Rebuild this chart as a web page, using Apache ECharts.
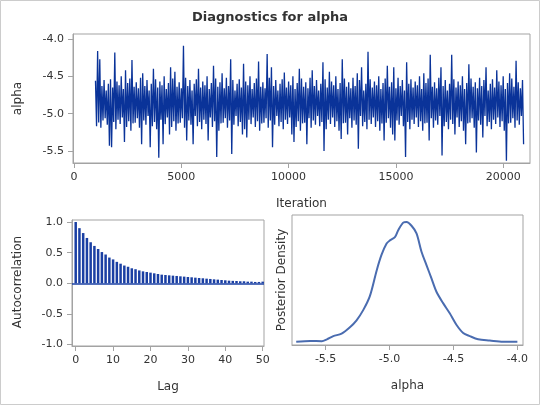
<!DOCTYPE html>
<html>

<head>
    <meta charset="utf-8">
    <title>Diagnostics for alpha</title>
    <script src="https://cdn.jsdelivr.net/npm/echarts@6/dist/echarts.min.js"></script>
    <style>
        body { margin: 0; background: #fff; }
    </style>
</head>

<body>
    <div id="main" style="width: 540px;height:405px;"></div>
    <script type="text/javascript">
    // trace: one value every 50 iterations (1001 .. 20951)
    var traceStart = 1001;
    var traceStep = 50;
    var traceValues = [
        -4.56, -5.17, -4.16, -5.12, -4.27, -5.19, -4.63, -5.09, -4.55, -5.06,
        -4.69, -5.15, -4.60, -5.43, -4.54, -5.45, -4.65, -5.11, -4.18, -5.21,
        -4.57, -5.08, -4.62, -5.14, -4.50, -5.05, -4.67, -5.38, -4.42, -5.18,
        -4.59, -5.10, -4.53, -5.23, -4.28, -5.13, -4.64, -5.12, -4.58, -5.06,
        -4.66, -5.19, -4.52, -5.41, -4.46, -5.09, -4.63, -5.15, -4.55, -5.03,
        -4.69, -5.45, -4.60, -5.17, -4.40, -5.11, -4.54, -5.21, -4.65, -5.59,
        -4.57, -5.08, -4.62, -5.41, -4.50, -5.14, -4.67, -5.05, -4.59, -5.28,
        -4.38, -5.18, -4.53, -5.10, -4.44, -5.23, -4.64, -5.13, -4.58, -5.12,
        -4.66, -5.06, -4.09, -5.19, -4.52, -5.36, -4.63, -5.09, -4.55, -5.15,
        -4.69, -5.41, -4.60, -5.03, -4.54, -5.17, -4.40, -5.11, -4.65, -5.21,
        -4.57, -5.08, -4.62, -5.14, -4.50, -5.36, -4.67, -5.05, -4.59, -5.18,
        -4.36, -5.10, -4.53, -5.58, -4.64, -5.23, -4.58, -5.13, -4.46, -5.12,
        -4.66, -5.06, -4.52, -5.19, -4.63, -5.09, -4.27, -5.54, -4.55, -5.15,
        -4.69, -5.03, -4.60, -5.17, -4.54, -5.11, -4.65, -5.28, -4.33, -5.21,
        -4.57, -5.32, -4.62, -5.08, -4.50, -5.14, -4.67, -5.05, -4.59, -5.18,
        -4.53, -5.10, -4.30, -5.23, -4.64, -5.13, -4.58, -5.12, -4.66, -5.06,
        -4.20, -5.19, -4.52, -5.09, -4.38, -5.45, -4.63, -5.15, -4.55, -5.03,
        -4.69, -5.17, -4.60, -5.11, -4.54, -5.21, -4.45, -5.08, -4.65, -5.14,
        -4.57, -5.05, -4.62, -5.28, -4.50, -5.38, -4.67, -5.18, -4.59, -5.10,
        -4.40, -5.23, -4.53, -5.13, -4.64, -5.12, -4.58, -5.41, -4.66, -5.06,
        -4.52, -5.19, -4.42, -5.09, -4.63, -5.15, -4.55, -5.03, -4.69, -5.17,
        -4.60, -5.11, -4.31, -5.50, -4.54, -5.21, -4.65, -5.08, -4.44, -5.14,
        -4.57, -5.05, -4.62, -5.18, -4.50, -5.10, -4.67, -5.23, -4.59, -5.34,
        -4.27, -5.13, -4.53, -5.12, -4.64, -5.28, -4.58, -5.06, -4.66, -5.19,
        -4.52, -5.09, -4.63, -5.15, -4.46, -5.47, -4.55, -5.03, -4.38, -5.17,
        -4.69, -5.11, -4.60, -5.21, -4.17, -5.08, -4.54, -5.14, -4.65, -5.05,
        -4.57, -5.18, -4.62, -5.10, -4.50, -5.23, -4.67, -5.13, -4.59, -5.36,
        -4.53, -5.12, -4.36, -5.06, -4.64, -5.19, -4.58, -5.28, -4.38, -5.36,
        -4.66, -5.09, -4.52, -5.15, -4.63, -5.03, -4.55, -5.17, -4.69, -5.58,
        -4.31, -5.11, -4.60, -5.21, -4.54, -5.08, -4.65, -5.14, -4.57, -5.05,
        -4.62, -5.18, -4.50, -5.10, -4.67, -5.23, -4.46, -5.13, -4.59, -5.12,
        -4.53, -5.36, -4.21, -5.06, -4.64, -5.19, -4.58, -5.09, -4.66, -5.15,
        -4.52, -5.03, -4.38, -5.56, -4.63, -5.17, -4.55, -5.11, -4.69, -5.21,
        -4.60, -5.08, -4.21, -5.14, -4.54, -5.28, -4.65, -5.05, -4.57, -5.18,
        -4.62, -5.10, -4.50, -5.23, -4.67, -5.41, -4.59, -5.13, -4.34, -5.12,
        -4.53, -5.06, -4.64, -5.19, -4.58, -5.52, -4.66, -5.09, -4.52, -5.15,
        -4.63, -5.32, -4.55, -5.03, -4.38, -5.17, -4.69, -5.11, -4.60, -5.21,
        -4.54, -5.08, -4.65, -5.14, -4.42, -5.05, -4.57, -5.18, -4.62, -5.10,
        -4.50, -5.23, -4.67, -5.63, -4.59, -5.13, -4.46, -5.12, -4.53, -5.06,
        -4.64, -5.19, -4.29, -5.09, -4.58, -5.15, -4.66, -5.03, -4.55, -5.41
    ];

    // autocorrelation for lags 0..50
    var acfValues = [
        1.00, 0.90, 0.82, 0.74, 0.67, 0.61, 0.56, 0.51, 0.47, 0.42,
        0.39, 0.35, 0.32, 0.29, 0.27, 0.245, 0.23, 0.21, 0.195, 0.185,
        0.174, 0.163, 0.152, 0.141, 0.136, 0.13, 0.125, 0.12, 0.114, 0.109,
        0.103, 0.098, 0.092, 0.087, 0.082, 0.076, 0.071, 0.065, 0.06, 0.054,
        0.049, 0.043, 0.04, 0.038, 0.033, 0.033, 0.027, 0.027, 0.022, 0.022,
        0.027
    ];

    // posterior density curve
    var densityX = [-5.73, -5.62, -5.53, -5.49, -5.44, -5.375, -5.31, -5.258, -5.206, -5.154,
        -5.10, -5.063, -5.023, -4.997, -4.958, -4.932, -4.893, -4.867, -4.828, -4.789,
        -4.75, -4.711, -4.672, -4.633, -4.581, -4.529, -4.477, -4.424, -4.372, -4.307,
        -4.216, -4.112, -4.0];
    var densityY = [0.0, 0.013, 0.01, 0.04, 0.09, 0.13, 0.23, 0.34, 0.50, 0.72,
        1.13, 1.37, 1.55, 1.60, 1.65, 1.76, 1.88, 1.89, 1.83, 1.71,
        1.42, 1.21, 1.00, 0.79, 0.61, 0.45, 0.27, 0.14, 0.09, 0.04,
        0.02, 0.0, 0.0];

    // tick labels
    var traceXTicks = [0, 5000, 10000, 15000, 20000];
    var traceYTicks = [-5.5, -5.0, -4.5, -4.0];
    var acfXTicks = [0, 10, 20, 30, 40, 50];
    var acfYTicks = [-1.0, -0.5, 0.0, 0.5, 1.0];
    var densityXTicks = [-5.5, -5.0, -4.5, -4.0];

    var font = 'DejaVu Sans';
    var frameColor = '#a3a3a3';
    var textColor = '#333333';

    function fixed1(v) { return v.toFixed(1); }

    function valueAxis(grid, min, max, ticks, formatter) {
        return {
            type: 'value',
            gridIndex: grid,
            min: min,
            max: max,
            splitLine: { show: false },
            axisLine: { show: true, onZero: false, lineStyle: { color: frameColor } },
            axisTick: { show: true, length: 5, customValues: ticks, lineStyle: { color: frameColor } },
            axisLabel: {
                customValues: ticks,
                formatter: formatter,
                margin: 9,
                fontFamily: font,
                fontSize: 11,
                color: textColor
            }
        };
    }

    var traceData = traceValues.map(function (v, i) {
        return [traceStart + i * traceStep, v];
    });
    var acfData = acfValues.map(function (v, i) {
        return [i, v];
    });
    var densityData = densityX.map(function (x, i) {
        return [x, densityY[i]];
    });

    function title(text, x, y, rotate, size, weight) {
        return {
            type: 'text',
            x: x,
            y: y,
            rotation: rotate ? Math.PI / 2 : 0,
            style: {
                text: text,
                fill: textColor,
                font: (weight || 'normal') + ' ' + size + 'px "' + font + '"',
                align: 'center',
                verticalAlign: 'middle'
            }
        };
    }

    var myChart = echarts.init(document.getElementById('main'));

    var option = {
        animation: false,
        backgroundColor: '#ffffff',
        grid: [
            { left: 73, top: 34, width: 457, height: 129, show: true, borderColor: frameColor, borderWidth: 1 },
            { left: 72, top: 220, width: 192, height: 126, show: true, borderColor: frameColor, borderWidth: 1 },
            { left: 292, top: 215, width: 231, height: 130, show: true, borderColor: frameColor, borderWidth: 1 }
        ],
        xAxis: [
            valueAxis(0, -47, 21250, traceXTicks, function (v) { return String(v); }),
            valueAxis(1, -0.99, 50.35, acfXTicks, function (v) { return String(v); }),
            valueAxis(2, -5.763, -3.956, densityXTicks, fixed1)
        ],
        yAxis: [
            valueAxis(0, -5.661, -3.933, traceYTicks, fixed1),
            valueAxis(1, -1.023, 1.033, acfYTicks, fixed1),
            {
                type: 'value',
                gridIndex: 2,
                min: -0.05,
                max: 2.0,
                splitLine: { show: false },
                axisLine: { show: false },
                axisTick: { show: false },
                axisLabel: { show: false }
            }
        ],
        graphic: [
            {
                type: 'rect',
                shape: { x: 0.5, y: 0.5, width: 539, height: 404 },
                style: { fill: 'none', stroke: '#cccccc', lineWidth: 1 }
            },
            title('Diagnostics for alpha', 270, 17.5, false, 13, 'bold'),
            title('alpha', 18, 98.5, true, 12),
            title('Iteration', 301.5, 204, false, 12),
            title('Autocorrelation', 18, 282, true, 12),
            title('Lag', 168, 386.5, false, 12),
            title('Posterior Density', 282, 280, true, 12),
            title('alpha', 407.5, 386, false, 12)
        ],
        series: [{
            name: 'trace',
            type: 'line',
            xAxisIndex: 0,
            yAxisIndex: 0,
            showSymbol: false,
            symbol: 'none',
            sampling: null,
            lineStyle: { color: '#0a3399', width: 1.3 },
            data: traceData
        }, {
            name: 'acf',
            type: 'bar',
            xAxisIndex: 1,
            yAxisIndex: 1,
            barWidth: 2.5,
            itemStyle: { color: '#1a3fa3' },
            markLine: {
                silent: true,
                symbol: 'none',
                label: { show: false },
                lineStyle: { color: '#1d42a5', width: 1.5, type: 'solid' },
                data: [{ yAxis: 0 }]
            },
            data: acfData
        }, {
            name: 'density',
            type: 'line',
            xAxisIndex: 2,
            yAxisIndex: 2,
            showSymbol: false,
            symbol: 'none',
            smooth: 0.3,
            lineStyle: { color: '#4a6cb0', width: 2 },
            data: densityData
        }]
    };
    myChart.setOption(option);
    </script>
</body>

</html>
